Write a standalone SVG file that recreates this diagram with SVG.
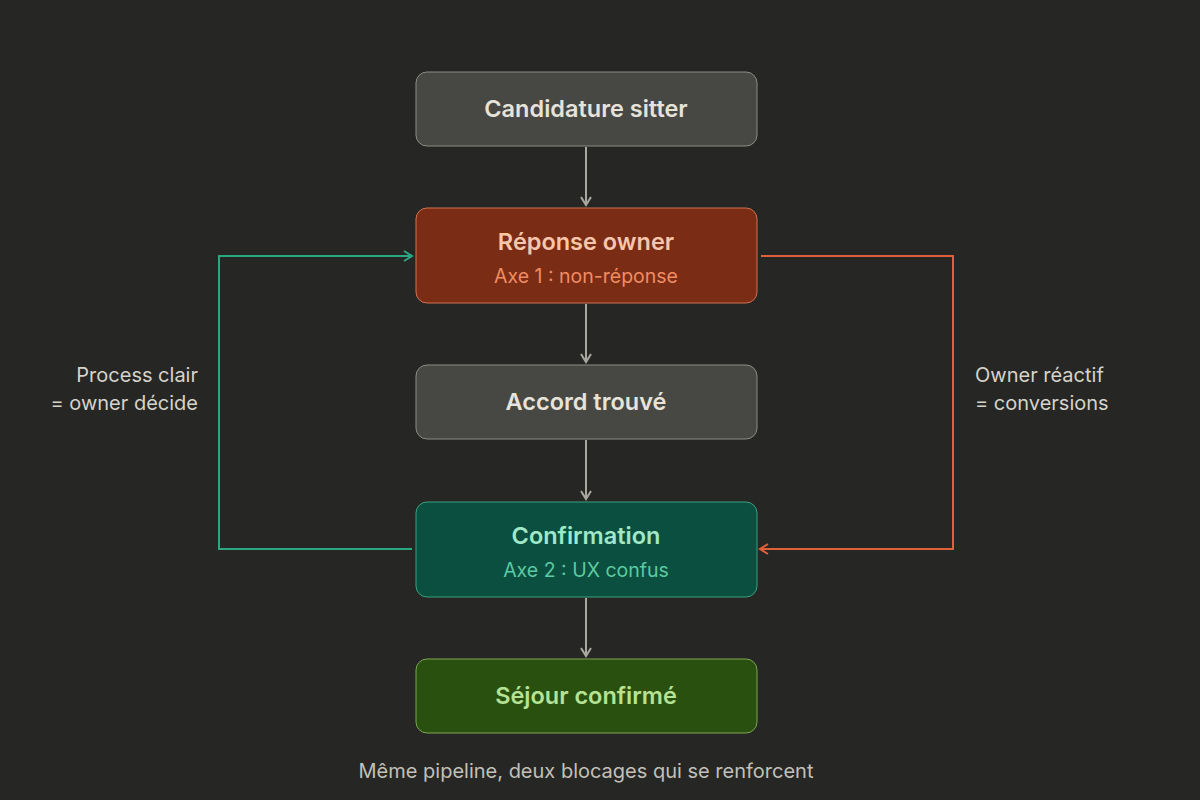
<svg xmlns="http://www.w3.org/2000/svg" width="1200" height="800" viewBox="0 0 1200 800">
<defs>
<style>
text{font-family:Inter,"Noto Sans","Liberation Sans",sans-serif;}
.t{font-size:23.5px;font-weight:600;text-anchor:middle;}
.s{font-size:19.5px;font-weight:400;text-anchor:middle;}
.lbl{font-size:20px;fill:#d6d3ca;}
.g rect{fill:#474743;stroke:#8d8c86;stroke-width:1}
.g text{fill:#e6e3da}
.conn{fill:none;stroke-width:2}
</style>
<marker id="ag" viewBox="0 0 12 12" refX="10" refY="6" markerWidth="12" markerHeight="12" markerUnits="userSpaceOnUse" orient="auto"><path d="M2,1 L10,6 L2,11" fill="none" stroke="#a8a7a0" stroke-width="2"/></marker>
<marker id="agr" viewBox="0 0 12 12" refX="10" refY="6" markerWidth="12" markerHeight="12" markerUnits="userSpaceOnUse" orient="auto"><path d="M2,1 L10,6 L2,11" fill="none" stroke="#2aa882" stroke-width="2"/></marker>
<marker id="aor" viewBox="0 0 12 12" refX="10" refY="6" markerWidth="12" markerHeight="12" markerUnits="userSpaceOnUse" orient="auto"><path d="M2,1 L10,6 L2,11" fill="none" stroke="#e0603a" stroke-width="2"/></marker>
</defs>
<rect width="1200" height="800" fill="#262624"/>
<g id="connectors">
<line class="conn" x1="586" y1="147" x2="586" y2="205" stroke="#a8a7a0" marker-end="url(#ag)"/>
<line class="conn" x1="586" y1="304" x2="586" y2="362" stroke="#a8a7a0" marker-end="url(#ag)"/>
<line class="conn" x1="586" y1="440" x2="586" y2="499" stroke="#a8a7a0" marker-end="url(#ag)"/>
<line class="conn" x1="586" y1="598" x2="586" y2="656" stroke="#a8a7a0" marker-end="url(#ag)"/>
<polyline class="conn" points="412,549 219,549 219,256 412,256" stroke="#2aa882" marker-end="url(#agr)"/>
<polyline class="conn" points="761,256 953,256 953,549 760,549" stroke="#e0603a" marker-end="url(#aor)"/>
</g>
<g id="n1" class="g"><rect x="416" y="72" width="341" height="74" rx="11"/><text class="t" x="586" y="117">Candidature sitter</text></g>
<g id="n2"><rect x="416" y="208" width="341" height="95" rx="11" fill="#7a2c14" stroke="#d27252"/><text class="t" x="586" y="250" fill="#f8c6ac">Réponse owner</text><text class="s" x="586" y="283" fill="#f08c64">Axe 1 : non-réponse</text></g>
<g id="n3" class="g"><rect x="416" y="365" width="341" height="74" rx="11"/><text class="t" x="586" y="410">Accord trouvé</text></g>
<g id="n4"><rect x="416" y="502" width="341" height="95" rx="11" fill="#0b4f41" stroke="#3aa27f"/><text class="t" x="586" y="544" fill="#a0e8c8">Confirmation</text><text class="s" x="586" y="577" fill="#5ccaa2">Axe 2 : UX confus</text></g>
<g id="n5"><rect x="416" y="659" width="341" height="74" rx="11" fill="#2a5010" stroke="#78a850"/><text class="t" x="586" y="704" fill="#b6e294">Séjour confirmé</text></g>
<g id="labels">
<text class="lbl" x="198" y="382" text-anchor="end">Process clair</text>
<text class="lbl" x="198" y="410" text-anchor="end">= owner décide</text>
<text class="lbl" x="975" y="382">Owner réactif</text>
<text class="lbl" x="975" y="410">= conversions</text>
<text x="586" y="778" text-anchor="middle" font-size="20" fill="#c2c0b8">Même pipeline, deux blocages qui se renforcent</text>
</g>
</svg>
